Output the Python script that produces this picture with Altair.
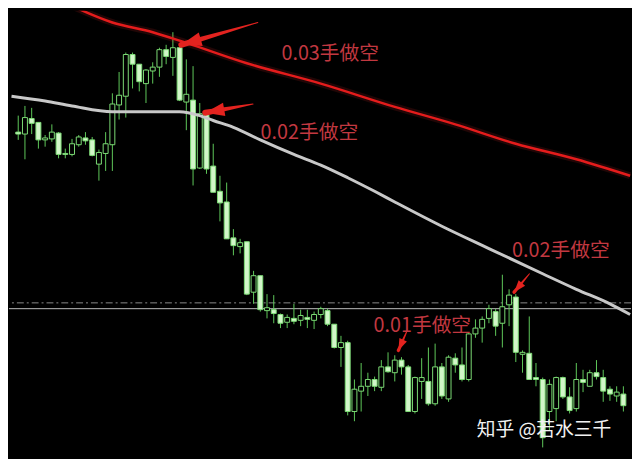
import altair as alt
import pandas as pd

W, H = 632, 451
XDOM = [-0.64, 90.4]
YDOM = [0, 459]

high = [108, 98, 100, 115, 128, 117, 125, 142, 132, 128, 125, 130, 143, 125, 85, 63, 43, 43, 55, 60,
        53, 38, 35, 22, 37, 50, 57, 95, 105, 137, 170, 177, 225, 235, 238, 268, 273, 292, 293, 312,
        313, 302, 308, 308, 310, 305, 307, 323, 335, 340, 380, 363, 373, 377, 360, 352, 355, 357, 365, 377,
        358, 347, 343, 363, 355, 353, 347, 332, 318, 315, 303, 307, 272, 287, 292, 350, 315, 363, 378, 380,
        377, 377, 388, 363, 370, 370, 360, 370, 387, 387, 387]
low = [133, 153, 127, 142, 140, 135, 152, 152, 150, 140, 138, 150, 175, 165, 165, 112, 110, 80, 83, 95,
       75, 68, 55, 67, 93, 123, 180, 163, 168, 187, 217, 235, 252, 250, 293, 302, 310, 317, 322, 327,
       327, 323, 325, 327, 328, 317, 325, 348, 367, 417, 423, 413, 397, 392, 392, 373, 382, 375, 413, 415,
       400, 407, 407, 400, 403, 373, 382, 382, 337, 342, 322, 335, 347, 325, 362, 373, 380, 387, 450, 433,
       423, 400, 415, 413, 393, 387, 380, 403, 402, 403, 413]
open_ = [125, 127, 111, 115, 133, 132, 126, 147, 148, 138, 131, 133, 158, 147, 138, 97, 88, 45, 55, 75,
         62, 58, 40, 48, 38, 94, 92, 162, 107, 160, 186, 197, 234, 243, 238, 290, 273, 309, 308, 313,
         321, 317, 319, 316, 319, 313, 309, 323, 347, 342, 413, 392, 387, 380, 388, 367, 373, 360, 367, 413,
         382, 382, 405, 367, 400, 358, 365, 380, 333, 327, 317, 310, 322, 303, 295, 354, 353, 378, 380, 413,
         410, 378, 398, 410, 380, 387, 373, 378, 390, 397, 395]
close = [127, 110, 116, 133, 131, 125, 148, 148, 137, 130, 134, 149, 146, 137, 96, 87, 45, 55, 73, 61,
         58, 40, 47, 38, 92, 86, 163, 106, 163, 187, 198, 235, 242, 239, 292, 273, 308, 306, 312, 322,
         316, 320, 314, 318, 313, 307, 323, 347, 342, 413, 390, 387, 380, 387, 367, 372, 360, 367, 413, 378,
         378, 405, 367, 397, 357, 365, 380, 333, 327, 318, 307, 325, 305, 293, 352, 352, 380, 380, 440, 385,
         378, 398, 412, 380, 383, 373, 377, 392, 395, 393, 407]

# moving averages (sampled at candle positions)
grey_i = [-1, 4, 8, 14, 19, 24, 27, 29, 32, 36, 41, 45, 49, 53, 56, 63, 70, 78, 83, 88, 91]
grey_v = [88, 93, 98, 104, 104, 104, 108, 113, 120, 133, 148, 159, 172, 186, 197, 222, 245, 271, 287, 302, 313]
red_i = [8, 14, 20, 25, 34, 45, 56, 65, 74, 83, 91]
red_v = [-5, 12, 22, 33, 54, 75, 99, 117, 137, 153, 170]

# horizontal levels
dash_level = [301]
solid_level = [307]

# annotations
labels = ["0.03手做空", "0.02手做空", "0.02手做空", "0.01手做空"]
label_i = [46.4, 43.3, 80.7, 60.1]
label_v = [45, 126, 248, 325]
watermark = ["知乎 @若水三千"]
wm_i = [78.2]
wm_v = [432]

arrow_tail_i = [35.63, 34.92, 57.82, 76.03]
arrow_tail_v = [12, 96, 330, 271]
arrow_tip_i = [24.25, 27.81, 56.54, 73.75]
arrow_tip_v = [35, 105, 350, 290]
arrow_angle = [254, 260, 204, 220]
arrow_head = [420, 380, 140, 150]
arrow_width = [6, 6, 3.5, 3.5]

candles = pd.DataFrame({"i": list(range(len(high))), "high": high, "low": low,
                        "open": open_, "close": close})

xs = alt.Scale(domain=XDOM, nice=False, zero=False)
ys = alt.Scale(domain=YDOM, reverse=True, nice=False, zero=False)
X = lambda f: alt.X(f, scale=xs, axis=None)
Y = lambda f: alt.Y(f, scale=ys, axis=None)

wicks = alt.Chart(candles).mark_rule(color="#5fc95a", strokeWidth=1).encode(
    x=X("i:Q"), y=Y("high:Q"), y2="low:Q")
bodies = alt.Chart(candles).mark_bar(size=5, stroke="#7ddc76", strokeWidth=1).encode(
    x=X("i:Q"), y=Y("open:Q"), y2="close:Q",
    fill=alt.condition("datum.close < datum.open", alt.value("#000000"), alt.value("#d2f6c9")))

grey_df = pd.DataFrame({"i": grey_i, "v": grey_v})
red_df = pd.DataFrame({"i": red_i, "v": red_v})
grey_line = alt.Chart(grey_df).mark_line(color="#c8c8c8", strokeWidth=3, clip=True,
                                         interpolate="monotone").encode(x=X("i:Q"), y=Y("v:Q"))
red_glow = alt.Chart(red_df).mark_line(color="#ff3030", strokeWidth=7, opacity=0.13, clip=True,
                                       interpolate="monotone").encode(x=X("i:Q"), y=Y("v:Q"))
red_line = alt.Chart(red_df).mark_line(color="#e41c1c", strokeWidth=2.5, clip=True,
                                       interpolate="monotone").encode(x=X("i:Q"), y=Y("v:Q"))

dash = alt.Chart(pd.DataFrame({"v": dash_level})).mark_rule(
    color="#8a8a8a", strokeWidth=1, strokeDash=[7, 3, 2, 3]).encode(y=Y("v:Q"))
solid = alt.Chart(pd.DataFrame({"v": solid_level})).mark_rule(
    color="#bdbdbd", strokeWidth=1).encode(y=Y("v:Q"))

rows = []
for k in range(len(arrow_tail_i)):
    rows.append({"a": k, "i": arrow_tail_i[k], "v": arrow_tail_v[k], "w": 1.0})
    rows.append({"a": k, "i": arrow_tip_i[k], "v": arrow_tip_v[k], "w": arrow_width[k]})
shaft = alt.Chart(pd.DataFrame(rows)).mark_trail(color="#e3231f").encode(
    x=X("i:Q"), y=Y("v:Q"), size=alt.Size("w:Q", scale=None, legend=None), detail="a:N")
heads = alt.Chart(pd.DataFrame({"i": arrow_tip_i, "v": arrow_tip_v, "ang": arrow_angle,
                                "sz": arrow_head})).mark_point(
    shape="M0,0L0.7,2L-0.7,2Z", filled=True, color="#e3231f", opacity=1).encode(
    x=X("i:Q"), y=Y("v:Q"), angle=alt.Angle("ang:Q", scale=None),
    size=alt.Size("sz:Q", scale=None, legend=None))

texts = alt.Chart(pd.DataFrame({"i": label_i, "v": label_v, "t": labels})).mark_text(
    font="Noto Sans CJK SC", fontSize=20, color="#c23840", align="center", baseline="middle").encode(
    x=X("i:Q"), y=Y("v:Q"), text="t:N")
wm = alt.Chart(pd.DataFrame({"i": wm_i, "v": wm_v, "t": watermark})).mark_text(
    font="Noto Sans CJK SC", fontSize=19, color="#f2f2f2", align="center", baseline="middle").encode(
    x=X("i:Q"), y=Y("v:Q"), text="t:N")

chart = alt.layer(dash, solid, wicks, bodies, grey_line, red_glow, red_line, shaft, heads, texts, wm).properties(
    width=W, height=H,
    autosize=alt.AutoSizeParams(type="fit", contains="padding"),
    padding=0, background="#000000",
).configure_view(strokeWidth=0)

chart.save("out.html", embed_options={"renderer": "svg", "actions": False})
